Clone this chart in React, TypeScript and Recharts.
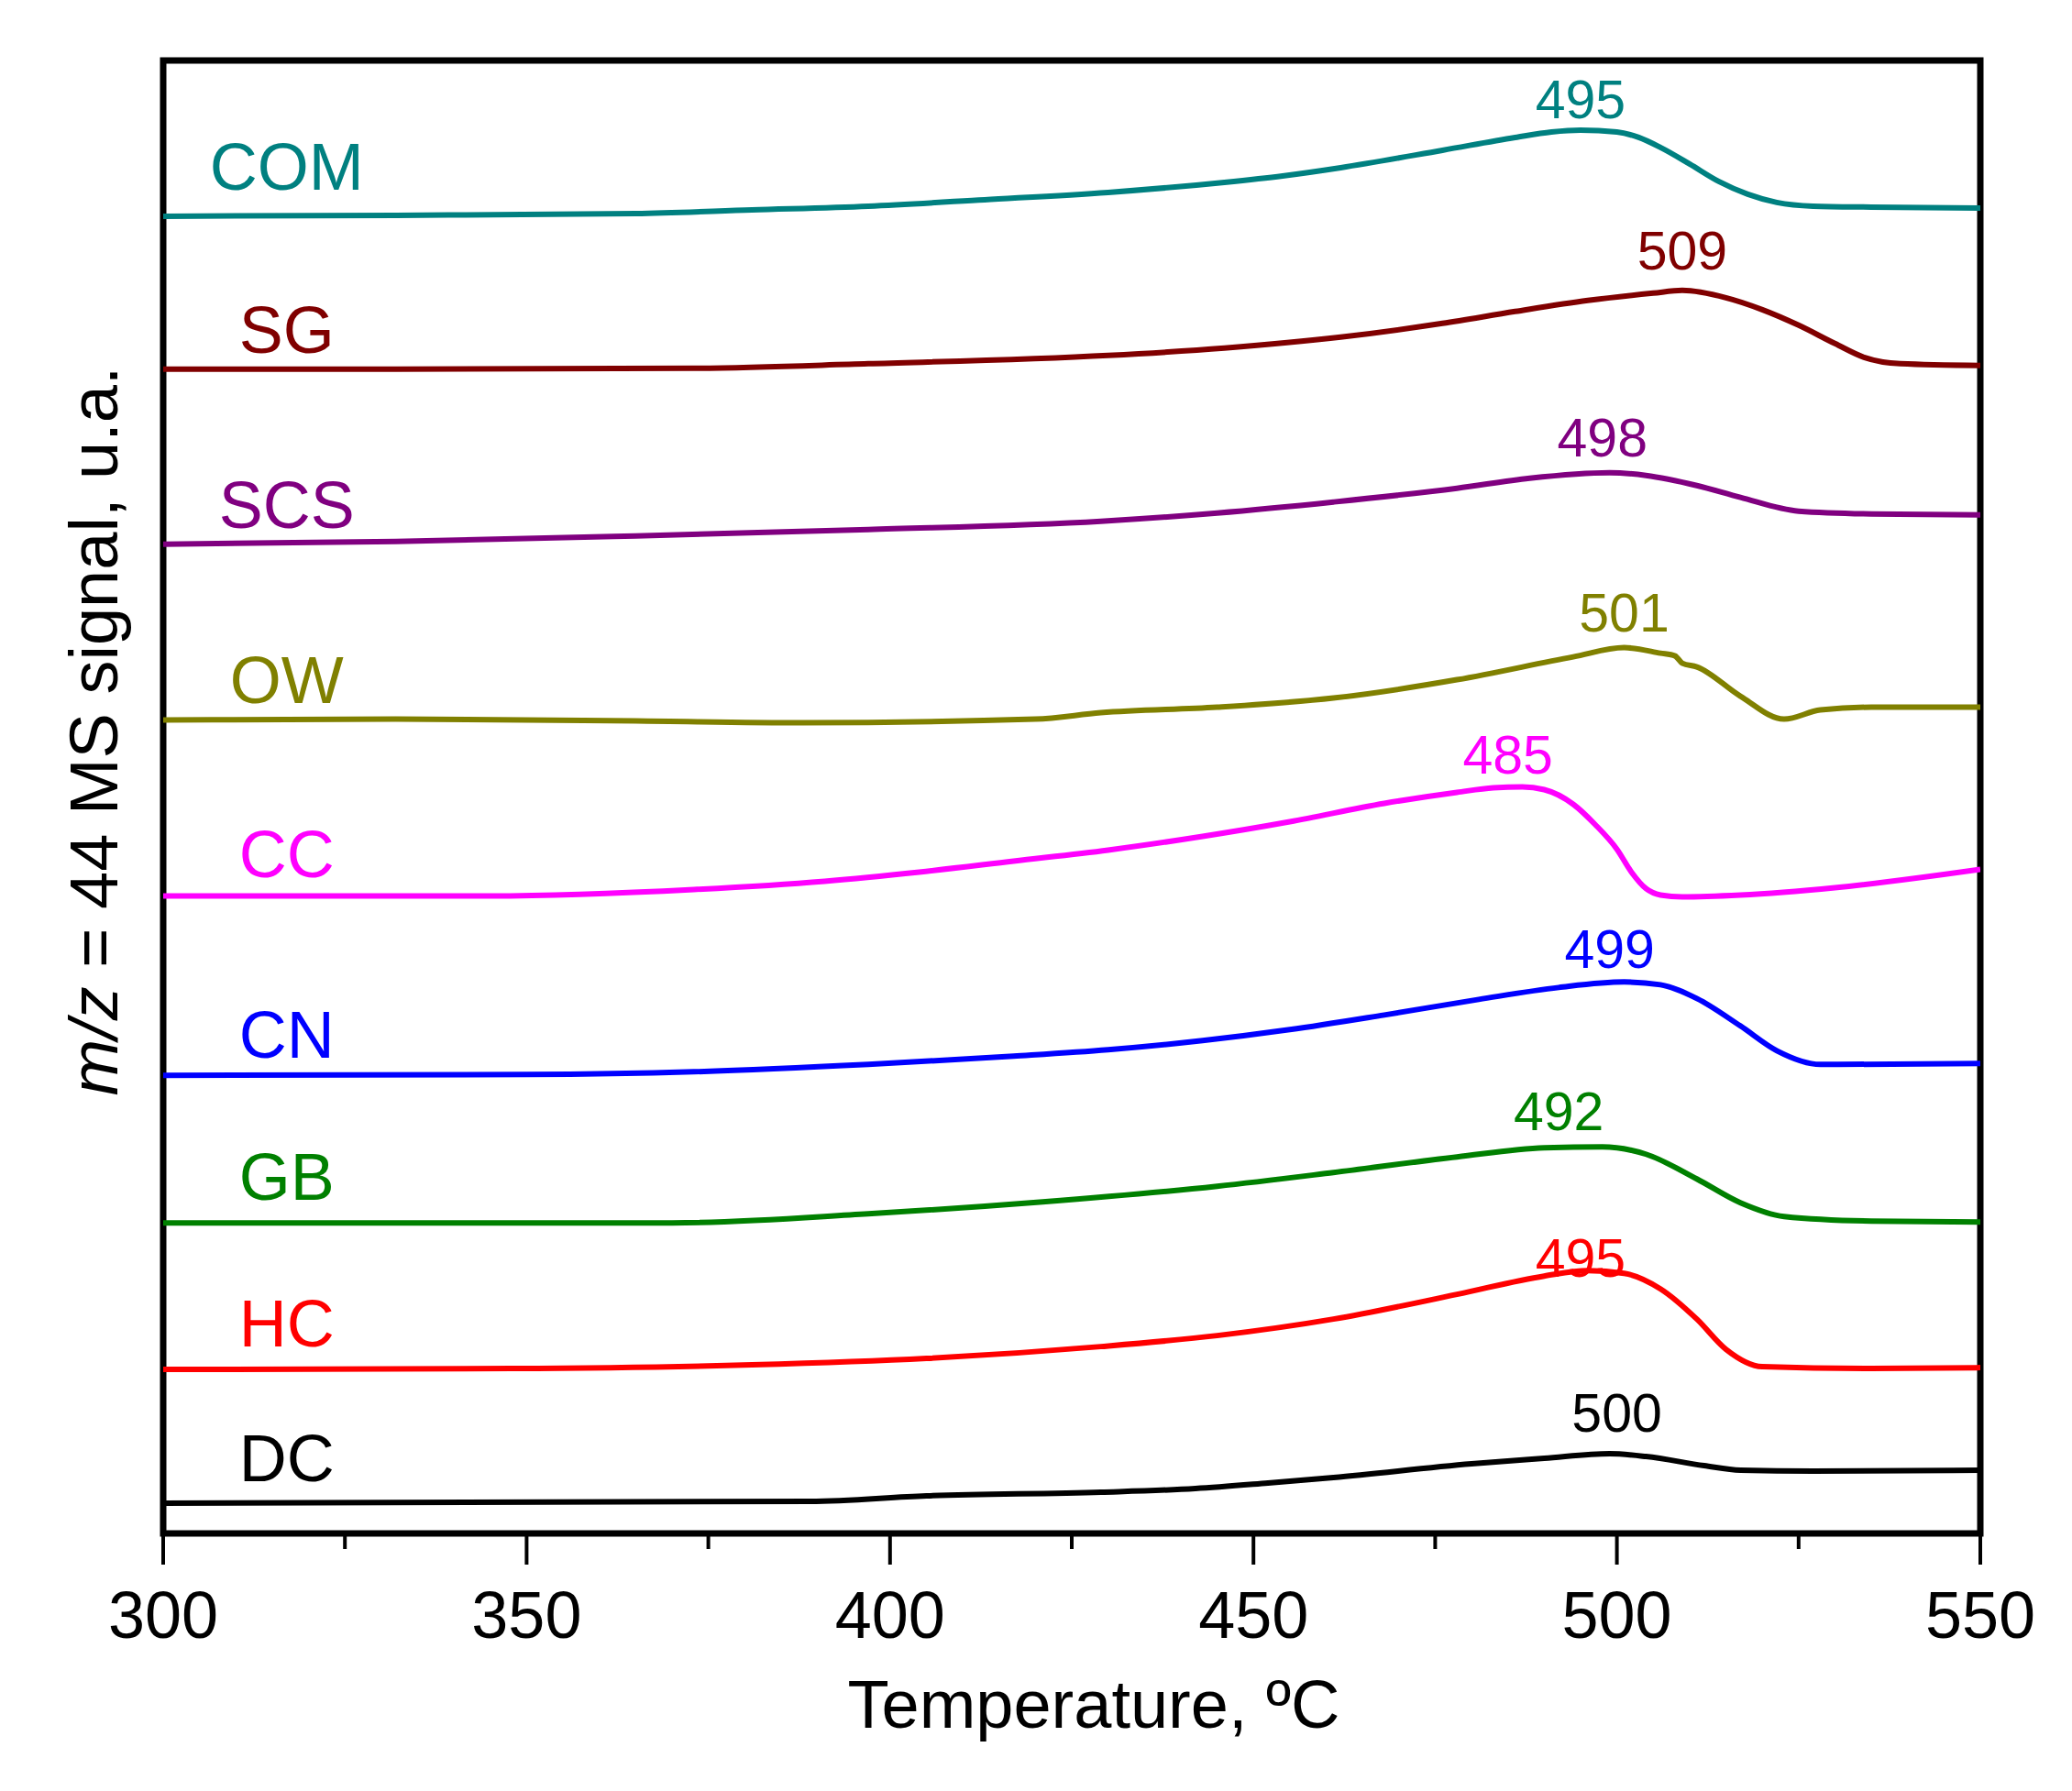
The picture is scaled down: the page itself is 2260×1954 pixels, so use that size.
import React from "react";
import {
  LineChart,
  Line,
  XAxis,
  YAxis,
  ReferenceArea,
  ReferenceDot,
} from "recharts";

// m/z = 44 traces, each offset vertically (signal in a.u.), temperature in ºC
const COM = [
  { t: 300, v: 1438 }, { t: 332, v: 1439 }, { t: 365, v: 1441 }, { t: 381, v: 1445 },
  { t: 397, v: 1449 }, { t: 413, v: 1456 }, { t: 430, v: 1464 }, { t: 446, v: 1475 },
  { t: 454, v: 1482 }, { t: 462, v: 1491 }, { t: 476, v: 1510 }, { t: 486, v: 1524 },
  { t: 491, v: 1530 }, { t: 495, v: 1532 }, { t: 500, v: 1530 }, { t: 503, v: 1524 },
  { t: 506, v: 1513 }, { t: 510, v: 1495 }, { t: 514, v: 1476 }, { t: 518, v: 1462 },
  { t: 522, v: 1453 }, { t: 527, v: 1449 }, { t: 535, v: 1448 }, { t: 550, v: 1447 },
];
const SG = [
  { t: 300, v: 1271 }, { t: 332, v: 1271 }, { t: 373, v: 1272 }, { t: 397, v: 1277 },
  { t: 430, v: 1286 }, { t: 446, v: 1294 }, { t: 462, v: 1306 }, { t: 476, v: 1321 },
  { t: 486, v: 1334 }, { t: 496, v: 1346 }, { t: 505, v: 1354 }, { t: 509, v: 1357 },
  { t: 515, v: 1349 }, { t: 520, v: 1336 }, { t: 525, v: 1319 }, { t: 530, v: 1299 },
  { t: 534, v: 1284 }, { t: 539, v: 1277 }, { t: 550, v: 1275 },
];
const SCS = [
  { t: 300, v: 1080 }, { t: 332, v: 1083 }, { t: 365, v: 1089 }, { t: 397, v: 1096 },
  { t: 429, v: 1105 }, { t: 445, v: 1114 }, { t: 461, v: 1126 }, { t: 478, v: 1141 },
  { t: 488, v: 1152 }, { t: 499, v: 1158 }, { t: 504, v: 1155 }, { t: 511, v: 1144 },
  { t: 517, v: 1131 }, { t: 525, v: 1116 }, { t: 535, v: 1113 }, { t: 550, v: 1112 },
];
const OW = [
  { t: 300, v: 888 }, { t: 332, v: 889 }, { t: 365, v: 887 }, { t: 388, v: 885 },
  { t: 420, v: 889 }, { t: 429, v: 896 }, { t: 445, v: 902 }, { t: 461, v: 912 },
  { t: 478, v: 932 }, { t: 494, v: 957 }, { t: 501, v: 967 }, { t: 506, v: 961 },
  { t: 508, v: 958 }, { t: 509, v: 950 }, { t: 511, v: 946 }, { t: 517, v: 914 },
  { t: 523, v: 889 }, { t: 528, v: 899 }, { t: 535, v: 902 }, { t: 550, v: 902 },
];
const CC = [
  { t: 300, v: 696 }, { t: 345, v: 696 }, { t: 373, v: 703 }, { t: 391, v: 712 },
  { t: 404, v: 722 }, { t: 417, v: 734 }, { t: 430, v: 746 }, { t: 443, v: 761 },
  { t: 455, v: 777 }, { t: 468, v: 797 }, { t: 478, v: 809 }, { t: 483, v: 814 },
  { t: 487, v: 815 }, { t: 490, v: 812 }, { t: 494, v: 796 }, { t: 497, v: 774 },
  { t: 500, v: 747 }, { t: 502, v: 722 }, { t: 504, v: 704 }, { t: 506, v: 697 },
  { t: 509, v: 695 }, { t: 517, v: 697 }, { t: 530, v: 705 }, { t: 550, v: 725 },
];
const CN = [
  { t: 300, v: 500 }, { t: 350, v: 501 }, { t: 373, v: 504 }, { t: 397, v: 512 },
  { t: 417, v: 521 }, { t: 430, v: 528 }, { t: 443, v: 538 }, { t: 455, v: 550 },
  { t: 468, v: 566 }, { t: 481, v: 583 }, { t: 492, v: 596 }, { t: 501, v: 602 },
  { t: 506, v: 599 }, { t: 511, v: 584 }, { t: 517, v: 554 }, { t: 522, v: 527 },
  { t: 528, v: 512 }, { t: 550, v: 513 },
];
const GB = [
  { t: 300, v: 339 }, { t: 370, v: 339 }, { t: 397, v: 349 }, { t: 421, v: 362 },
  { t: 445, v: 379 }, { t: 461, v: 394 }, { t: 478, v: 411 }, { t: 490, v: 421 },
  { t: 498, v: 422 }, { t: 504, v: 414 }, { t: 511, v: 387 }, { t: 517, v: 361 },
  { t: 523, v: 346 }, { t: 535, v: 341 }, { t: 550, v: 340 },
];
const HC = [
  { t: 300, v: 179 }, { t: 348, v: 180 }, { t: 381, v: 184 }, { t: 405, v: 191 },
  { t: 429, v: 204 }, { t: 445, v: 216 }, { t: 461, v: 234 }, { t: 478, v: 261 },
  { t: 490, v: 281 }, { t: 496, v: 287 }, { t: 501, v: 284 }, { t: 506, v: 267 },
  { t: 511, v: 234 }, { t: 515, v: 201 }, { t: 520, v: 182 }, { t: 535, v: 180 },
  { t: 550, v: 181 },
];
const DC = [
  { t: 300, v: 33 }, { t: 389, v: 35 }, { t: 405, v: 41 }, { t: 429, v: 45 },
  { t: 442, v: 49 }, { t: 452, v: 55 }, { t: 461, v: 61 }, { t: 480, v: 76 },
  { t: 490, v: 82 }, { t: 499, v: 87 }, { t: 504, v: 84 }, { t: 512, v: 74 },
  { t: 517, v: 69 }, { t: 527, v: 68 }, { t: 550, v: 69 },
];

const seriesNames = ["COM", "SG", "SCS", "OW", "CC", "CN", "GB", "HC", "DC"];
const seriesData = [COM, SG, SCS, OW, CC, CN, GB, HC, DC];
const seriesColors = [
  "#008080", "#800000", "#800080", "#808000", "#FF00FF",
  "#0000FF", "#008000", "#FF0000", "#000000",
];
// peak temperatures written above each trace, and the a.u. level of that text
const peakTemps = [495, 509, 498, 501, 485, 499, 492, 495, 500];
const peakLabelY = [1566, 1401, 1197, 1006, 850, 638, 461, 301, 132];
// sample name level (a.u.) at the left side
const nameLabelT = 317;
const nameLabelY = [1492, 1314, 1123, 932, 742, 545, 390, 230, 83];

const xTicks = [300, 325, 350, 375, 400, 425, 450, 475, 500, 525, 550];

const FONT = '"Liberation Sans", Arial, sans-serif';

function TempTick(props: any) {
  const { x, y, payload } = props;
  const major = payload.value % 50 === 0;
  return (
    <g>
      <line
        x1={x}
        x2={x}
        y1={y}
        y2={y + (major ? 34 : 17)}
        stroke="#000"
        strokeWidth={4}
      />
      {major && (
        <text
          x={x}
          y={y + 63}
          dy="0.71em"
          textAnchor="middle"
          fontSize={72}
          fill="#000"
          fontFamily={FONT}
        >
          {payload.value}
        </text>
      )}
    </g>
  );
}

function XTitle(props: any) {
  const { x, y, width } = props.viewBox;
  return (
    <text
      x={x + width / 2 + 24}
      y={y + 212}
      textAnchor="middle"
      fontSize={74}
      fill="#000"
      fontFamily={FONT}
    >
      Temperature, ºC
    </text>
  );
}

function YTitle(props: any) {
  const { x, y, height } = props.viewBox;
  const tx = x + 50;
  const ty = y + height / 2 - 72;
  return (
    <text
      x={tx}
      y={ty}
      transform={`rotate(-90, ${tx}, ${ty})`}
      textAnchor="middle"
      fontSize={74}
      fill="#000"
      fontFamily={FONT}
    >
      <tspan fontStyle="italic">m/z</tspan>
      <tspan>{" = 44 MS signal, u.a."}</tspan>
    </text>
  );
}

export default function App() {
  return (
    <div style={{ fontFamily: FONT, background: "#fff" }}>
      <LineChart
        width={2244}
        height={1938}
        margin={{ top: 58, right: 92, bottom: 0, left: 70 }}
      >
        <XAxis
          dataKey="t"
          type="number"
          domain={[300, 550]}
          ticks={xTicks}
          allowDataOverflow
          axisLine={false}
          tickLine={false}
          tickSize={0}
          tickMargin={0}
          tick={<TempTick />}
          height={273}
          interval={0}
          label={{ content: <XTitle /> }}
        />
        <YAxis
          type="number"
          domain={[0, 1608]}
          allowDataOverflow
          width={100}
          tick={false}
          tickLine={false}
          axisLine={false}
          label={{ content: <YTitle /> }}
        />
        <ReferenceArea
          x1={300}
          x2={550}
          y1={0}
          y2={1608}
          fill="none"
          fillOpacity={0}
          stroke="#000"
          strokeWidth={7}
          strokeOpacity={1}
        />
        {seriesData.map((d, i) => (
          <Line
            key={seriesNames[i]}
            data={d}
            dataKey="v"
            type="monotone"
            stroke={seriesColors[i]}
            strokeWidth={6}
            dot={false}
            activeDot={false}
            isAnimationActive={false}
          />
        ))}
        {seriesNames.map((name, i) => (
          <ReferenceDot
            key={"n" + name}
            x={nameLabelT}
            y={nameLabelY[i]}
            r={0}
            fill="none"
            stroke="none"
            label={{
              value: name,
              position: "center",
              fill: seriesColors[i],
              fontSize: 72,
              fontFamily: FONT,
            }}
          />
        ))}
        {peakTemps.map((p, i) => (
          <ReferenceDot
            key={"p" + seriesNames[i]}
            x={p}
            y={peakLabelY[i]}
            r={0}
            fill="none"
            stroke="none"
            label={{
              value: String(p),
              position: "center",
              fill: seriesColors[i],
              fontSize: 59,
              fontFamily: FONT,
            }}
          />
        ))}
      </LineChart>
    </div>
  );
}
